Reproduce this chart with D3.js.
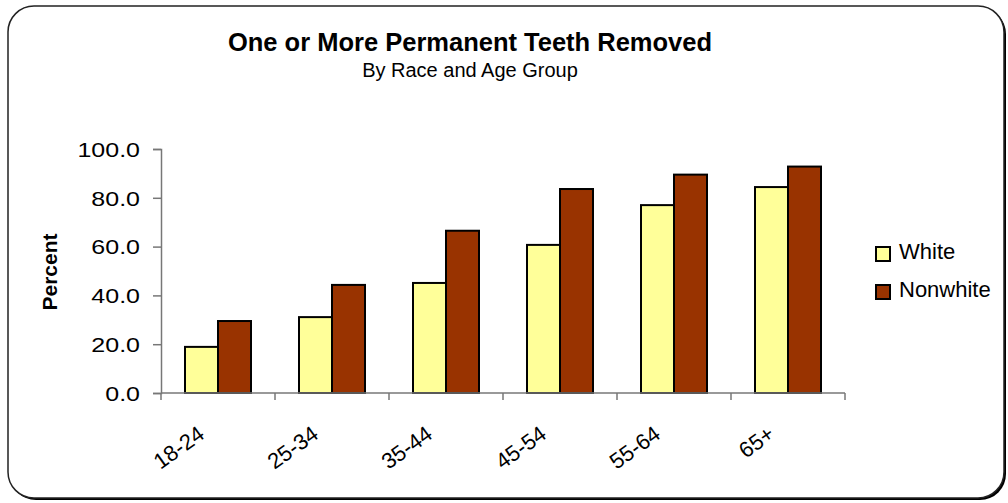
<!DOCTYPE html>
<html><head><meta charset="utf-8">
<script src="https://cdn.jsdelivr.net/npm/d3@7"></script>
<style>
body{margin:0;background:#fff}
svg{display:block}
text{font-family:"Liberation Sans",Arial,sans-serif;fill:#000}
</style>
</head><body>
<svg id="c" width="1008" height="503"></svg>
<script>
const categories=["18-24","25-34","35-44","45-54","55-64","65+"];
const seriesNames=["White","Nonwhite"];
const white=[18.9,31.1,45.1,60.7,77.0,84.4];
const nonwhite=[29.5,44.3,66.5,83.6,89.5,92.8];
const yTicks=[0,20,40,60,80,100];
const colors=["#FFFF99","#993300"];
const title="One or More Permanent Teeth Removed";
const subtitle="By Race and Age Group";
const yTitle="Percent";

const series=[white,nonwhite];
const svg=d3.select("#c");

// frame with shadow
svg.append("rect").attr("x",10).attr("y",8).attr("width",996).attr("height",492).attr("rx",26).attr("fill","#000");
svg.append("rect").attr("x",8).attr("y",6).attr("width",996).attr("height",492).attr("rx",26)
  .attr("fill","#fff").attr("stroke","#222").attr("stroke-width",1.5);

// titles
svg.append("text").attr("x",470).attr("y",51).attr("text-anchor","middle")
  .style("font-size","25.5px").style("font-weight","bold").text(title);
svg.append("text").attr("x",470).attr("y",77).attr("text-anchor","middle")
  .style("font-size","20px").text(subtitle);

// scales
const x=d3.scaleBand().domain(categories).range([161,845]).paddingInner(48/114).paddingOuter(24/114);
const x1=d3.scaleBand().domain(seriesNames).range([0,x.bandwidth()]);
const y=d3.scaleLinear().domain([0,100]).range([393,149]);

// bars
categories.forEach((c,i)=>{
  seriesNames.forEach((s,j)=>{
    svg.append("rect")
      .attr("x",x(c)+x1(s)).attr("y",y(series[j][i]))
      .attr("width",x1.bandwidth()).attr("height",y(0)-y(series[j][i]))
      .attr("fill",colors[j]).attr("stroke","#000").attr("stroke-width",2);
  });
});

// y axis
const axisColor="#777";
const gy=svg.append("g").attr("transform","translate(161,0)")
  .call(d3.axisLeft(y).tickValues(yTicks).tickFormat(d3.format(".1f")).tickSize(8).tickPadding(12));
gy.select(".domain").attr("stroke",axisColor).attr("stroke-width",1.5);
gy.selectAll(".tick line").attr("stroke",axisColor).attr("stroke-width",1.5);
gy.selectAll(".tick text").style("font-size","20px").style("font-family","'Liberation Sans',Arial,sans-serif")
  .attr("x",0).attr("dy","0.36em")
  .attr("transform","translate(-21,0) scale(1.25,1)");

// x axis
const gx=svg.append("g").attr("transform","translate(0,393)");
gx.append("line").attr("x1",x.range()[0]).attr("x2",x.range()[1]).attr("stroke",axisColor).attr("stroke-width",1.5);
d3.range(categories.length+1).forEach(i=>{
  const bx=x.range()[0]+i*x.step();
  gx.append("line").attr("x1",bx).attr("x2",bx).attr("y1",0).attr("y2",7).attr("stroke",axisColor).attr("stroke-width",1.5);
});
categories.forEach(c=>{
  const cx=x(c)+x.bandwidth()/2;
  svg.append("text").attr("text-anchor","end")
    .attr("transform",`translate(${cx-12},437) rotate(-36)`)
    .style("font-size","22px").text(c);
});

// y title
svg.append("text").attr("text-anchor","middle")
  .attr("transform","translate(56.5,272) rotate(-90)")
  .style("font-size","21px").style("font-weight","bold").text(yTitle);

// legend
seriesNames.forEach((s,j)=>{
  const ly=247+j*38;
  svg.append("rect").attr("x",876).attr("y",ly).attr("width",14).attr("height",14)
    .attr("fill",colors[j]).attr("stroke","#000").attr("stroke-width",2);
  svg.append("text").attr("x",899).attr("y",ly+11.5).style("font-size","22px").text(s);
});
</script>
</body></html>
